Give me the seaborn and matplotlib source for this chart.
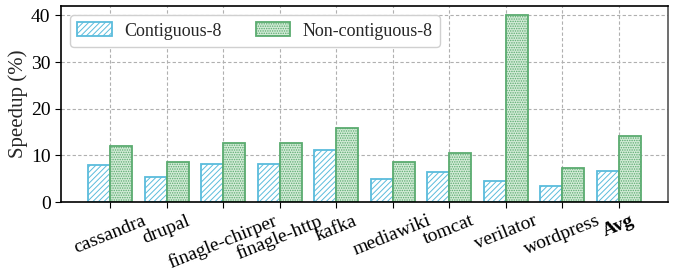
import matplotlib
matplotlib.use("Agg")
import matplotlib.pyplot as plt
import seaborn as sns
import pandas as pd

categories = ["cassandra", "drupal", "finagle-chirper", "finagle-http", "kafka",
              "mediawiki", "tomcat", "verilator", "wordpress", "Avg"]
contiguous = [7.9, 5.4, 8.1, 8.2, 11.1, 4.9, 6.4, 4.6, 3.4, 6.7]
noncontiguous = [12.1, 8.5, 12.6, 12.6, 15.9, 8.6, 10.5, 40.0, 7.3, 14.2]
series_names = ["Contiguous-8", "Non-contiguous-8"]

df = pd.DataFrame({
    "bench": categories * 2,
    "speedup": contiguous + noncontiguous,
    "config": [series_names[0]] * len(categories) + [series_names[1]] * len(categories),
})

sns.set_theme(style="white")
plt.rcParams["font.family"] = ["Liberation Serif", "DejaVu Serif"]
plt.rcParams["hatch.linewidth"] = 0.7

fig = plt.figure(figsize=(6.81, 2.76), dpi=100)
ax = fig.add_axes([0.0896, 0.268, 0.891, 0.71])

sns.barplot(data=df, x="bench", y="speedup", hue="config", order=categories,
            hue_order=series_names, width=0.78, gap=0, ax=ax, legend=False)

styles = [
    dict(face="white", edge="#5bbcdc", hatch="//////"),
    dict(face="#d3ebd7", edge="#5aab6f", hatch="......."),
]
for cont, st in zip(ax.containers, styles):
    for p in cont:
        p.set_facecolor(st["face"])
        p.set_edgecolor(st["edge"])
        p.set_hatch(st["hatch"])
        p.set_linewidth(1.3)

ax.set_xlim(-0.87, 9.87)
ax.set_ylim(0, 42)
ax.set_yticks([0, 10, 20, 30, 40])
ax.set_xlabel("")
ax.set_ylabel("Speedup (%)", fontsize=15, labelpad=2)
ax.grid(True, axis="both", linestyle=(0, (3, 2)), color="#b0b0b0", linewidth=0.8)
ax.set_axisbelow(True)

for s in ["left", "bottom", "top"]:
    ax.spines[s].set_color("black")
    ax.spines[s].set_linewidth(1.2)
ax.spines["right"].set_color("#555555")
ax.spines["right"].set_linewidth(1.2)

ax.tick_params(axis="both", which="both", direction="out", length=4, width=0.8,
               colors="black", labelsize=14, bottom=True, left=True)
ax.set_xticks(range(len(categories)))
ax.set_xticklabels(categories, rotation=22, ha="center", fontsize=14)
for lbl in ax.get_xticklabels():
    if lbl.get_text() == "Avg":
        lbl.set_fontweight("bold")

leg = ax.legend(ax.containers, series_names, loc="upper left", ncol=2,
                fontsize=13, frameon=True, fancybox=True, framealpha=1,
                edgecolor="#d0d0d0", handlelength=1.9, handleheight=0.8,
                handletextpad=0.7, columnspacing=1.9, borderaxespad=0.5)

fig.savefig("out.png", dpi=100)
